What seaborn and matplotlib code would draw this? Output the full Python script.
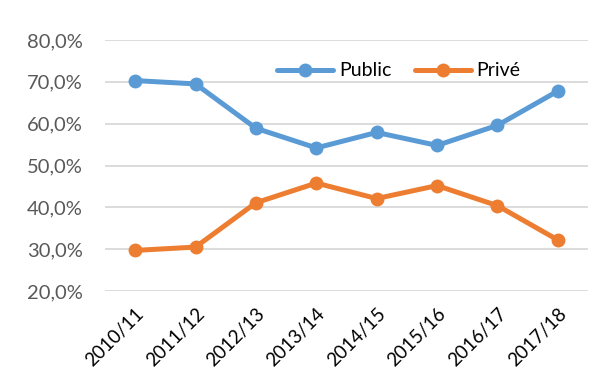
import matplotlib
matplotlib.use("Agg")
import matplotlib.pyplot as plt
import matplotlib.ticker as mticker
import seaborn as sns
import pandas as pd

years = ["2010/11", "2011/12", "2012/13", "2013/14", "2014/15", "2015/16", "2016/17", "2017/18"]
public = [70.3, 69.5, 58.9, 54.2, 57.9, 54.8, 59.6, 67.8]
prive = [29.7, 30.5, 41.1, 45.8, 42.1, 45.2, 40.4, 32.2]
series_names = ["Public", "Privé"]
colors = ["#5B9BD5", "#ED7D31"]

df = pd.DataFrame({
    "Année": years * 2,
    "Part": public + prive,
    "Secteur": [series_names[0]] * len(years) + [series_names[1]] * len(years),
})

sns.set_style("white")
plt.rcParams["font.family"] = ["Lato", "DejaVu Sans"]

fig = plt.figure(figsize=(6.14, 3.8), dpi=100)
ax = fig.add_axes([105 / 614, 1 - 291 / 380, (588 - 105) / 614, (291 - 40) / 380])

sns.lineplot(data=df, x="Année", y="Part", hue="Secteur", palette=colors,
             marker="o", markersize=10, markeredgewidth=0, linewidth=3.6,
             sort=False, ax=ax, zorder=3)

ax.set_ylim(20, 80)
ax.set_xlim(-0.5, len(years) - 0.5)
ax.yaxis.set_major_locator(mticker.MultipleLocator(10))
ax.yaxis.set_major_formatter(mticker.FuncFormatter(lambda v, _: f"{v:.1f}%".replace(".", ",")))
ax.grid(axis="y", color="#D9D9D9", linewidth=1.3, zorder=0)
ax.grid(axis="x", visible=False)
for s in ax.spines.values():
    s.set_visible(False)
ax.tick_params(axis="y", length=0, labelsize=14.5, labelcolor="#595959", pad=16)
ax.tick_params(axis="x", length=0, labelsize=13.5, labelcolor="#000000", pad=10)
plt.setp(ax.get_xticklabels(), rotation=45, ha="right", rotation_mode="anchor")
ax.set_xlabel("")
ax.set_ylabel("")

leg = ax.legend(loc="center left", bbox_to_anchor=(277 / 614, 1 - 71 / 380),
                bbox_transform=fig.transFigure, ncol=2, frameon=False,
                fontsize=14, handlelength=2.9, columnspacing=1.2, handletextpad=0.28,
                borderpad=0, borderaxespad=0, title=None)
for t in leg.get_texts():
    t.set_color("#000000")

fig.savefig("out.png", dpi=100)
